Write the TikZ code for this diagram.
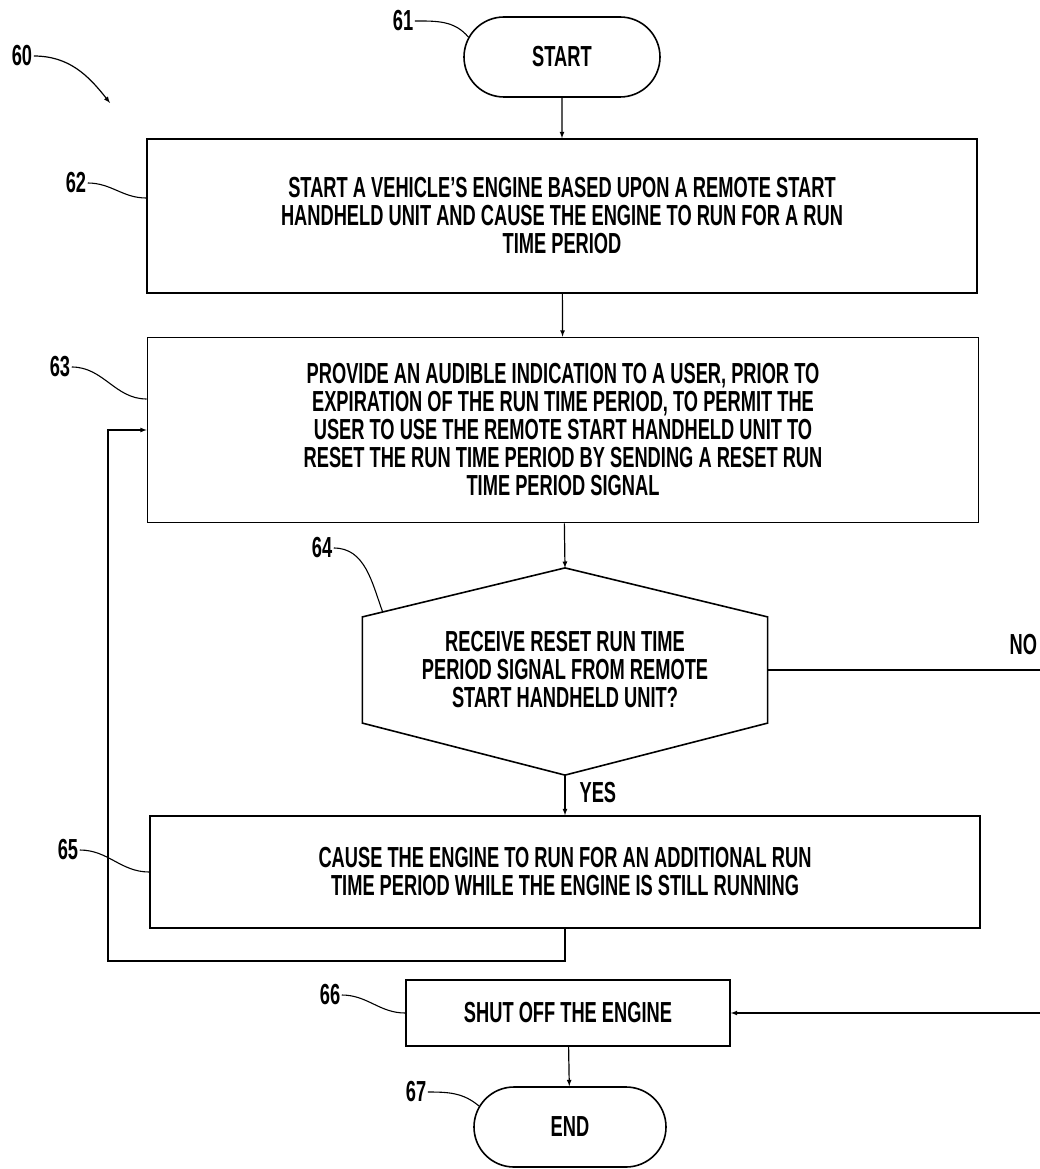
\documentclass[tikz,border=0pt]{standalone}
\usepackage{fontspec}
\setmainfont{Liberation Sans}[FakeStretch=0.63]
\usepackage{tikz}
\usetikzlibrary{shapes.misc, arrows, positioning, calc}

\begin{document}
\begin{tikzpicture}[x=1pt, y=-1pt, >=latex, line width=1.2pt,
					font=\fontsize{29}{28}\selectfont\bfseries,
					process/.style={rectangle, draw, line width=1.6pt, align=center, inner sep=0pt},
					terminal/.style={rounded rectangle, draw, line width=1.6pt, minimum height=80pt, inner sep=0pt},
					decision/.style={rectangle, align=center, minimum width=404pt, minimum height=105pt, inner sep=0pt},
					refnum/.style={inner sep=1pt},
					arrow/.style={->, line width=1.2pt},
					leader/.style={line width=1.1pt}
				]
					\useasboundingbox (0,0) rectangle (1039,1169);
					
					% Nodes
					\node[terminal, minimum width=196pt] (start) at (562,57) {START};
					\node[process, minimum width=830pt, minimum height=154pt] (engine) at (562,216) {START A VEHICLE’S ENGINE BASED UPON A REMOTE START\\HANDHELD UNIT AND CAUSE THE ENGINE TO RUN FOR A RUN\\TIME PERIOD};
					\node[process, minimum width=831pt, minimum height=185pt] (audible) at (563,430) {PROVIDE AN AUDIBLE INDICATION TO A USER, PRIOR TO\\EXPIRATION OF THE RUN TIME PERIOD, TO PERMIT THE\\USER TO USE THE REMOTE START HANDHELD UNIT TO\\RESET THE RUN TIME PERIOD BY SENDING A RESET RUN\\TIME PERIOD SIGNAL};
					\node[decision] (receive) at (565,670) {RECEIVE RESET RUN TIME\\PERIOD SIGNAL FROM REMOTE\\START HANDHELD UNIT?};
					\node[process, minimum width=830pt, minimum height=112pt] (extend) at (565,872) {CAUSE THE ENGINE TO RUN FOR AN ADDITIONAL RUN\\TIME PERIOD WHILE THE ENGINE IS STILL RUNNING};
					\node[process, minimum width=324pt, minimum height=66pt] (shutoff) at (568,1013) {SHUT OFF THE ENGINE};
					\node[terminal, minimum width=192pt] (stop) at (570,1127) {END};
					
					% Decision outline
					\coordinate (rtop) at ([yshift=49pt]receive.north);
					\coordinate (rbot) at ([yshift=-52pt]receive.south);
					\draw[line width=1.6pt] (receive.north west) -- (rtop) -- (receive.north east) -- (receive.south east) -- (rbot) -- (receive.south west) -- cycle;
					
					% Reference numerals
					\node[refnum] (n60) at (22,56) {60};
					\node[refnum] (n61) at (403,21) {61};
					\node[refnum] (n62) at (76,183) {62};
					\node[refnum] (n63) at (60,367) {63};
					\node[refnum] (n64) at (322,548) {64};
					\node[refnum] (n65) at (68,850) {65};
					\node[refnum] (n66) at (330,995) {66};
					\node[refnum] (n67) at (416,1092) {67};
					\node[refnum, anchor=west] (yes) at (578,793) {YES};
					\node[refnum, anchor=west] (no) at (1008,645) {NO};
					\coordinate (fig) at (110,103);
					\coordinate (noturn) at (1080,670);
					\coordinate (loopc) at (108,961);
					
					% Arrows
					\draw[arrow] (start) -- (engine);
					\draw[arrow] (engine) -- (audible);
					\draw[arrow] (audible) -- (rtop);
					\draw[arrow] (rbot) -- (extend);
					\draw[arrow] (receive.east) -- (receive.east -| noturn) |- (shutoff.east);
					\draw[arrow] (extend.south) |- (loopc) |- (audible.west);
					\draw[arrow] (shutoff) -- (stop);
					
					% Leaders
					\draw[arrow] (n60.east) .. controls +(35,0) and +(-22,-28) .. (fig);
					\draw[leader] (n61.east) to[out=0, in=130] (start.168);
					\draw[leader] (n62.east) to[out=0, in=180] ([yshift=18pt]engine.west);
					\draw[leader] (n63.east) to[out=0, in=180] ([yshift=31pt]audible.west);
					\draw[leader] (n64.east) to[out=0, in=110] ($(receive.north west)!0.1!(rtop)$);
					\draw[leader] (n65.east) to[out=0, in=180] (extend.west);
					\draw[leader] (n66.east) to[out=0, in=180] (shutoff.west);
					\draw[leader] (n67.east) to[out=0, in=140] (stop.167);
				\end{tikzpicture}
\end{document}
